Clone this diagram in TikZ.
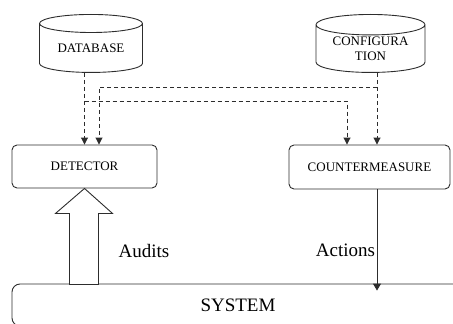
\documentclass[tikz,border=0pt]{standalone}
\usepackage{fontspec}
\setmainfont{Liberation Serif}
\usetikzlibrary{shapes.geometric,arrows.meta,positioning,calc}
\definecolor{LineGray}{RGB}{45,45,45}

\tikzset{
  store/.style={cylinder, shape border rotate=90, draw=LineGray, line width=0.9pt,
    aspect=0.27, minimum width=103pt, minimum height=58pt, inner sep=0pt,
    align=center, font=\fontsize{13}{15}\selectfont},
  unit/.style={rectangle, rounded corners=5pt, draw=LineGray, line width=0.9pt,
    inner sep=0pt, font=\fontsize{13}{15}\selectfont},
  feed/.style={draw=LineGray, line width=0.9pt, dash pattern=on 4pt off 3pt,
    -{Triangle[length=7pt,width=7pt]}},
  big/.style={font=\fontsize{19}{22}\selectfont}
}

\begin{document}
\begin{tikzpicture}[x=1pt, y=-1pt]
  \useasboundingbox (0,0) rectangle (453,324);

  % stores
  \node[store, anchor=north] (db) at (91,14) {DATABASE};
  \node[store, anchor=north, minimum width=109pt] (conf) at (370.5,14) {CONFIGURA\\TION};

  % units
  \node[unit, minimum width=145pt, minimum height=43pt] (det) at (84.5,166.5) {DETECTOR};
  \node[unit, minimum width=161pt, minimum height=44pt] (cm) at (369.5,167) {COUNTERMEASURE};

  % system
  \node[unit, rounded corners=8pt, minimum width=452pt, minimum height=42pt, big] (sys) at (238,305) {SYSTEM};

  % line positions
  \coordinate (cx) at (377,0);
  \coordinate (dx) at (99,0);
  \coordinate (mx) at (347,0);
  \coordinate (hi) at (0,87);
  \coordinate (lo) at (0,101);

  % dashed feeds
  \draw[feed] (db.south -| det.north) -- (det.north);
  \draw[feed] (conf.south -| cx) |- (hi -| dx) -- (det.north -| dx);
  \draw[feed] (lo -| det.north) -| (cm.north -| mx);
  \draw[feed] (conf.south -| cx) -- (cm.north -| cx);

  % hollow arrow
  \draw[draw=LineGray, line width=0.9pt, fill=white] (det.south) -- ++(28,25) -- ++(-14,0) -- ++(0,71)
    -- ++(-29,0) -- ++(0,-71) -- ++(-14,0) -- cycle;
  \node[big, anchor=west] (aud) at (115,251) {Audits};

  % actions
  \draw[draw=LineGray, line width=0.9pt, -{Triangle[length=7pt,width=8pt]}, shorten >=-7pt]
    (cm.south -| cx) -- (sys.north -| cx)
    node[pos=0.65, left, inner sep=1.5pt, big] (act) {Actions};
\end{tikzpicture}
\end{document}
